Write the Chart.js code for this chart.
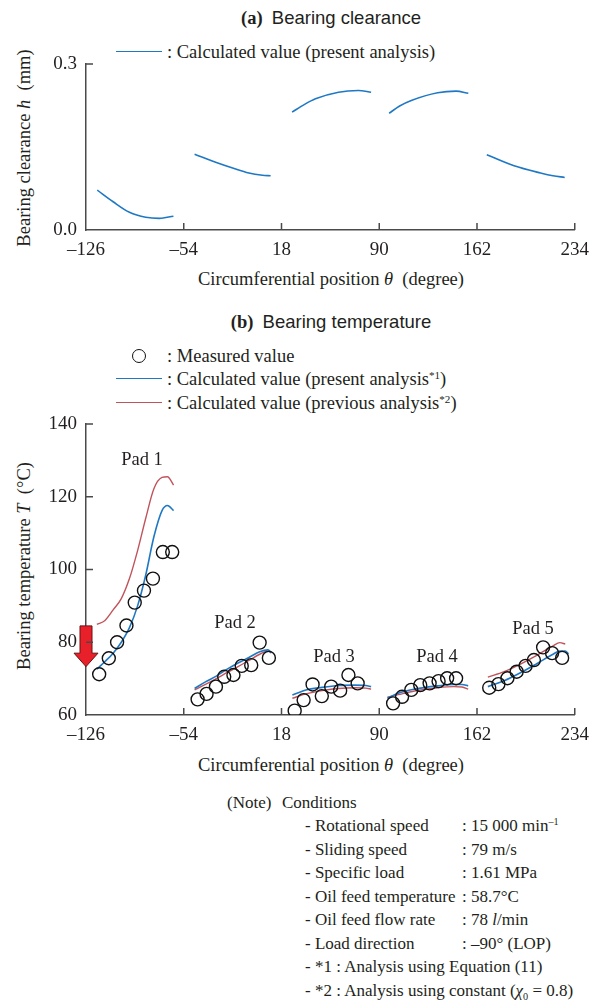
<!DOCTYPE html>
<html>
<head>
<meta charset="utf-8">
<script src="https://cdn.jsdelivr.net/npm/chart.js@4.4.1/dist/chart.umd.min.js"></script>
<style>
  body { margin: 0; background: #fff; }
  #page { position: relative; width: 598px; height: 1004px; overflow: hidden;
          font-family: "Liberation Serif", "Times New Roman", serif; color: #231f20; }
  .t { position: absolute; white-space: nowrap; font-size: 18.5px; line-height: 22px; }
  .c { transform: translateX(-50%); }
  .rot { transform: translate(-50%, -50%) rotate(-90deg); }
  .title b { font-family: "Liberation Serif", serif; font-weight: bold; }
  .title span { font-family: "Liberation Sans", Arial, sans-serif; }
  .line { position: absolute; height: 0; width: 46px; border-top: 1.6px solid; }
  .circ { position: absolute; width: 12px; height: 12px; border: 1.5px solid #111; border-radius: 50%; }
  .note { position: absolute; white-space: nowrap; font-size: 17px; line-height: 22px; }
  sup { font-size: 60%; line-height: 0; vertical-align: 0.55em; }
  canvas { position: absolute; left: 0; }
</style>
</head>
<body>
<div id="page">
  <!-- (a) -->
  <div class="t c title" style="left:331px; top:7px;"><b>(a)</b>&nbsp; <span>Bearing clearance</span></div>
  <div class="line" style="left:116px; top:51px; border-color:#1f78c4;"></div>
  <div class="t" style="left:167px; top:41px;">: Calculated value (present analysis)</div>
  <div class="t rot" style="left:24px; top:148px;">Bearing clearance <i>h</i>&nbsp; (mm)</div>
  <div class="t c" style="left:331px; top:268px;">Circumferential position <i>θ</i>&nbsp; (degree)</div>
  <canvas id="clearChart" width="598" height="300" style="top:0;"></canvas>

  <!-- (b) -->
  <div class="t c title" style="left:331px; top:311px;"><b>(b)</b>&nbsp; <span>Bearing temperature</span></div>
  <div class="circ" style="left:132px; top:349px;"></div>
  <div class="t" style="left:167px; top:345px;">: Measured value</div>
  <div class="line" style="left:116px; top:378px; border-color:#1f78c4;"></div>
  <div class="t" style="left:167px; top:368px;">: Calculated value (present analysis<sup>*1</sup>)</div>
  <div class="line" style="left:116px; top:402px; border-color:#c0545c;"></div>
  <div class="t" style="left:167px; top:392px;">: Calculated value (previous analysis<sup>*2</sup>)</div>
  <div class="t rot" style="left:24px; top:566px;">Bearing temperature <i>T</i>&nbsp; (°C)</div>
  <div class="t c" style="left:331px; top:754px;">Circumferential position <i>θ</i>&nbsp; (degree)</div>
  <canvas id="tempChart" width="598" height="400" style="top:390px;"></canvas>
  <div class="t c" style="left:142px; top:448px;">Pad 1</div>
  <div class="t c" style="left:235px; top:611px;">Pad 2</div>
  <div class="t c" style="left:334px; top:645px;">Pad 3</div>
  <div class="t c" style="left:437px; top:645px;">Pad 4</div>
  <div class="t c" style="left:533px; top:617px;">Pad 5</div>

  <!-- notes -->
  <div class="note" style="left:227px; top:792px;">(Note)</div>
  <div class="note" style="left:282px; top:792px;">Conditions</div>
  <div class="note" style="left:305px; top:815px;">- Rotational speed</div>
  <div class="note" style="left:462px; top:815px;">: 15 000 min<sup>–1</sup></div>
  <div class="note" style="left:305px; top:839px;">- Sliding speed</div>
  <div class="note" style="left:462px; top:839px;">: 79 m/s</div>
  <div class="note" style="left:305px; top:862px;">- Specific load</div>
  <div class="note" style="left:462px; top:862px;">: 1.61 MPa</div>
  <div class="note" style="left:305px; top:886px;">- Oil feed temperature</div>
  <div class="note" style="left:462px; top:886px;">: 58.7°C</div>
  <div class="note" style="left:305px; top:909px;">- Oil feed flow rate</div>
  <div class="note" style="left:462px; top:909px;">: 78 <i>l</i>/min</div>
  <div class="note" style="left:305px; top:933px;">- Load direction</div>
  <div class="note" style="left:462px; top:933px;">: –90° (LOP)</div>
  <div class="note" style="left:305px; top:956px;">- *1 : Analysis using Equation (11)</div>
  <div class="note" style="left:305px; top:980px;">- *2 : Analysis using constant (<i>χ</i><sub style="font-size:60%">0</sub> = 0.8)</div>
</div>

<script>
// (a) bearing clearance, null = gap between pads
const clearTheta = [-117.7, -106, -94, -82, -72, -61.6, -54,
  -46, -30, -18, -6, 4, 10, 18,
  25.8, 35, 43, 60, 74.6, 84, 90,
  97.3, 105, 113.6, 133, 146.6, 155.6, 162,
  169.2, 189.3, 208.8, 218, 226.6];
const clearH = [0.072, 0.051, 0.032, 0.023, 0.021, 0.025, null,
  0.137, 0.122, 0.112, 0.103, 0.099, 0.098, null,
  0.213, 0.227, 0.237, 0.249, 0.252, 0.249, null,
  0.211, 0.224, 0.234, 0.248, 0.251, 0.247, null,
  0.136, 0.116, 0.103, 0.098, 0.095];

// (b) bearing temperature, measured
const measTheta = [-116.3, -109.2, -103.1, -96.2, -90.1, -83.3, -76.7, -69.4, -62.5,
  -43.8, -37.2, -30.3, -24.2, -17.4, -11.3, -4.3, 1.9, 8.7,
  27.7, 34.3, 40.9, 47.7, 54.6, 61.2, 67.3, 74.1,
  100.2, 106.8, 113.6, 120.2, 127.1, 133.7, 140, 146.6,
  171, 177.8, 184.4, 191.2, 197.8, 203.9, 210.7, 217.3, 224.7];
const measTemp = [71.2, 75.6, 80.0, 84.6, 90.9, 94.2, 97.5, 104.8, 104.8,
  64.3, 65.8, 67.8, 70.5, 71.0, 73.5, 73.7, 79.9, 75.7,
  61.2, 64.1, 68.4, 65.2, 67.8, 66.7, 71.0, 68.7,
  63.2, 65.0, 66.9, 68.2, 68.7, 69.3, 70.1, 70.1,
  67.5, 68.5, 70.1, 71.9, 73.5, 75.1, 78.6, 77.0, 75.7];

// calculated curves
const lineTheta = [-118, -112, -106, -100, -94, -88, -82, -76, -70, -66, -61.5, -54,
  -46, -38, -30, -22, -14, -6, 2, 8, 10.5, 18,
  26, 36, 48, 60, 72, 80, 84, 90,
  96, 104, 116, 133, 145, 151, 155.5, 162,
  170, 182, 194, 206, 218, 223, 227, 229.5];
const bluePresent = [72.6, 74.7, 77.0, 80.0, 84.0, 90.0, 98.5, 109.0, 116.2, 117.6, 116.2, null,
  67.3, 69.1, 70.7, 72.6, 74.3, 75.8, 77.4, 77.9, 77.2, null,
  65.5, 66.9, 67.6, 68.1, 68.2, 68.1, 67.8, null,
  64.6, 66.0, 67.1, 68.0, 68.4, 68.4, 68.0, null,
  67.8, 69.4, 71.6, 74.1, 76.7, 77.6, 77.6, 76.8];
const redPrevious = [84.9, 86.0, 88.9, 92.0, 97.5, 105.2, 114.1, 122.2, 125.3, 125.5, 123.2, null,
  66.9, 68.4, 70.0, 71.7, 73.3, 75.0, 76.7, 77.6, 77.0, null,
  64.6, 65.8, 66.7, 67.3, 67.5, 67.4, 67.1, null,
  64.9, 65.6, 66.6, 67.5, 67.8, 67.7, 67.1, null,
  70.4, 71.9, 74.0, 76.4, 79.0, 79.9, 79.5, null];

// load direction arrow (theta, temperatures of top / neck / tip)
const arrowTheta = -126;
const arrowTop = 84.5, arrowNeck = 77, arrowTip = 73.3;

const blue = '#1f78c4';
const red = '#c0545c';
const axisColor = '#4a4a4a';
const textColor = '#231f20';
const tickFont = { family: 'Liberation Serif', size: 19 };

const fmtDeg = v => String(v).replace('-', '\u2013');

const inwardTicks = {
  id: 'inwardTicks',
  afterDraw(chart) {
    const { ctx, chartArea } = chart;
    const x = chart.scales.x, y = chart.scales.y;
    ctx.save();
    ctx.strokeStyle = axisColor;
    ctx.lineWidth = 1.5;
    ctx.beginPath();
    x.ticks.forEach(t => {
      if (t.value === x.min) return;
      const px = x.getPixelForValue(t.value);
      ctx.moveTo(px, chartArea.bottom);
      ctx.lineTo(px, chartArea.bottom - 7);
    });
    y.ticks.forEach(t => {
      if (t.value === y.min) return;
      const py = y.getPixelForValue(t.value);
      ctx.moveTo(chartArea.left, py);
      ctx.lineTo(chartArea.left + 7, py);
    });
    ctx.stroke();
    ctx.restore();
  }
};

const loadArrow = {
  id: 'loadArrow',
  afterDatasetsDraw(chart) {
    const { ctx } = chart;
    const x = chart.scales.x, y = chart.scales.y;
    const cx = x.getPixelForValue(arrowTheta);
    const top = y.getPixelForValue(arrowTop);
    const neck = y.getPixelForValue(arrowNeck);
    const tip = y.getPixelForValue(arrowTip);
    ctx.save();
    ctx.beginPath();
    ctx.moveTo(cx - 6, top);
    ctx.lineTo(cx + 6, top);
    ctx.lineTo(cx + 6, neck);
    ctx.lineTo(cx + 12, neck);
    ctx.lineTo(cx, tip);
    ctx.lineTo(cx - 12, neck);
    ctx.lineTo(cx - 6, neck);
    ctx.closePath();
    ctx.fillStyle = '#e8202a';
    ctx.fill();
    ctx.strokeStyle = '#6a1010';
    ctx.lineWidth = 1;
    ctx.stroke();
    ctx.restore();
  }
};

function axes(xHeight, yMin, yMax, yStep, yFmt) {
  return {
    x: {
      type: 'linear', min: -126, max: 234,
      ticks: { stepSize: 72, font: tickFont, color: textColor, padding: 9, maxRotation: 0, callback: fmtDeg },
      grid: { display: false, drawTicks: false },
      border: { display: true, color: axisColor, width: 1.5 },
      afterFit: s => { s.height = xHeight; }
    },
    y: {
      min: yMin, max: yMax,
      ticks: { stepSize: yStep, font: tickFont, color: textColor, padding: 9, callback: yFmt },
      grid: { display: false, drawTicks: false },
      border: { display: true, color: axisColor, width: 1.5 },
      afterFit: s => { s.width = 86; }
    }
  };
}

// (a) Bearing clearance
new Chart(document.getElementById('clearChart'), {
  type: 'line',
  data: {
    datasets: [{
      label: 'Calculated value (present analysis)',
      data: clearTheta.map((t, i) => ({ x: t, y: clearH[i] })),
      borderColor: blue,
      borderWidth: 1.6,
      pointRadius: 0,
      spanGaps: false,
      cubicInterpolationMode: 'monotone'
    }]
  },
  options: {
    responsive: false,
    animation: false,
    layout: { padding: { top: 64, right: 20, left: 0, bottom: 0 } },
    plugins: { legend: { display: false }, tooltip: { enabled: false } },
    scales: axes(70, 0, 0.3, 0.3, v => v.toFixed(1))
  },
  plugins: [inwardTicks]
});

// (b) Bearing temperature
new Chart(document.getElementById('tempChart'), {
  type: 'line',
  data: {
    datasets: [
      {
        label: 'Measured value',
        data: measTheta.map((t, i) => ({ x: t, y: measTemp[i] })),
        showLine: false,
        pointStyle: 'circle',
        pointRadius: 6.5,
        pointBorderWidth: 1.4,
        pointBorderColor: '#111',
        pointBackgroundColor: 'rgba(0,0,0,0)'
      },
      {
        label: 'Calculated value (present analysis)',
        data: lineTheta.map((t, i) => ({ x: t, y: bluePresent[i] })),
        borderColor: blue,
        borderWidth: 1.6,
        pointRadius: 0,
        spanGaps: false,
        cubicInterpolationMode: 'monotone'
      },
      {
        label: 'Calculated value (previous analysis)',
        data: lineTheta.map((t, i) => ({ x: t, y: redPrevious[i] })),
        borderColor: red,
        borderWidth: 1.4,
        pointRadius: 0,
        spanGaps: false,
        cubicInterpolationMode: 'monotone'
      }
    ]
  },
  options: {
    responsive: false,
    animation: false,
    layout: { padding: { top: 34, right: 20, left: 0, bottom: 0 } },
    plugins: { legend: { display: false }, tooltip: { enabled: false } },
    scales: axes(75, 60, 140, 20, v => v)
  },
  plugins: [inwardTicks, loadArrow]
});
</script>
</body>
</html>
